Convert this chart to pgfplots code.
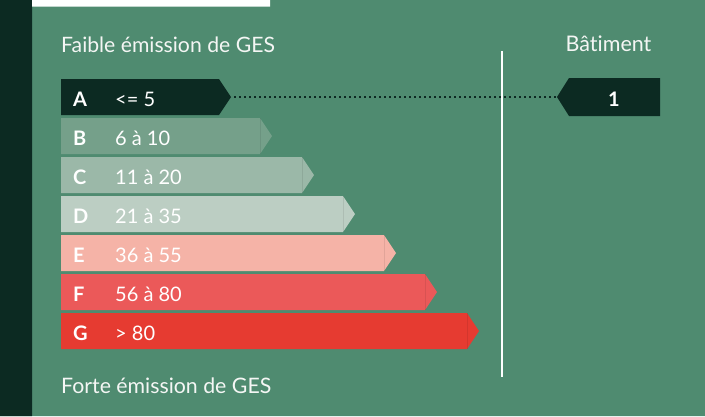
\documentclass[border=0pt]{standalone}
\usepackage{pgfplots}
\pgfplotsset{compat=1.18}
\usepackage{fontspec}
\setmainfont{Lato}[Ligatures=NoCommon]
\definecolor{bg}{HTML}{4F8B70}
\definecolor{dk}{HTML}{0C2A22}
\definecolor{cB}{HTML}{75A08A}
\definecolor{cC}{HTML}{9BB8A8}
\definecolor{cD}{HTML}{BCCEC3}
\definecolor{cE}{HTML}{F5B3A7}
\definecolor{cF}{HTML}{EB5959}
\definecolor{cG}{HTML}{E63B31}
\definecolor{tx}{HTML}{F4F6F4}
\newcommand{\lab}{\fontsize{20}{20}\selectfont}
\begin{document}
\begin{tikzpicture}
\begin{axis}[width=705pt,height=416pt,scale only axis,
  xmin=0,xmax=705,ymin=0,ymax=416,y dir=reverse,
  hide axis,clip=false,no markers]
% background and frame
\addplot[fill=bg,draw=none] coordinates {(0,0)(705,0)(705,416)(0,416)(0,0)};
\addplot[fill=dk,draw=none] coordinates {(0,0)(32,0)(32,416)(0,416)(0,0)};
\addplot[fill=white,draw=none] coordinates {(32,0)(270,0)(270,6.5)(32,6.5)(32,0)};
% bars: top, bottom, body end
\addplot[fill=dk,draw=none] coordinates {(61,79)(219,79)(231,97)(219,115)(61,115)(61,79)};
\addplot[fill=cB,draw=none] coordinates {(61,118)(260,118)(272,136)(260,154)(61,154)(61,118)};
\addplot[fill=cC,draw=none] coordinates {(61,157)(302,157)(314,175)(302,193)(61,193)(61,157)};
\addplot[fill=cD,draw=none] coordinates {(61,196)(343,196)(355,214)(343,232)(61,232)(61,196)};
\addplot[fill=cE,draw=none] coordinates {(61,235)(384,235)(396,253)(384,271)(61,271)(61,235)};
\addplot[fill=cF,draw=none] coordinates {(61,274)(425,274)(437,292)(425,310)(61,310)(61,274)};
\addplot[fill=cG,draw=none] coordinates {(61,313)(467,313)(479,331)(467,349)(61,349)(61,313)};
% faint seams at the arrow tips
\addplot[draw=black,opacity=0.08,line width=0.8pt] coordinates {(260,118)(260,154)};
\addplot[draw=black,opacity=0.08,line width=0.8pt] coordinates {(302,157)(302,193)};
\addplot[draw=black,opacity=0.08,line width=0.8pt] coordinates {(343,196)(343,232)};
\addplot[draw=black,opacity=0.08,line width=0.8pt] coordinates {(384,235)(384,271)};
\addplot[draw=black,opacity=0.08,line width=0.8pt] coordinates {(425,274)(425,310)};
\addplot[draw=black,opacity=0.08,line width=0.8pt] coordinates {(467,313)(467,349)};
% vertical separator
\addplot[draw=white,line width=2.4pt] coordinates {(502,51)(502,377)};
% dotted connector
\addplot[draw=dk,line width=2.2pt,dash pattern=on 2.2pt off 2.8pt] coordinates {(234,97)(556,97)};
% building arrow
\addplot[fill=dk,draw=none] coordinates {(557,97)(569,78)(660,78)(660,116)(569,116)(557,97)};
% texts
\node[anchor=base west,text=tx,inner sep=0pt] at (axis cs:61,52) {\fontsize{21.2}{22}\selectfont Faible émission de GES};
\node[anchor=base west,text=tx,inner sep=0pt] at (axis cs:61,393) {\fontsize{21.3}{22}\selectfont Forte émission de GES};
\node[anchor=base,text=tx,inner sep=0pt] at (axis cs:608.5,51) {\fontsize{21.5}{22}\selectfont Bâtiment};
\node[anchor=base,text=white,inner sep=0pt] at (axis cs:614,106) {\lab\bfseries 1};
\node[anchor=base west,text=white,inner sep=0pt] at (axis cs:73,106) {\lab\bfseries A};
\node[anchor=base west,text=white,inner sep=0pt] at (axis cs:73,145) {\lab\bfseries B};
\node[anchor=base west,text=white,inner sep=0pt] at (axis cs:73,184) {\lab\bfseries C};
\node[anchor=base west,text=white,inner sep=0pt] at (axis cs:73,223) {\lab\bfseries D};
\node[anchor=base west,text=white,inner sep=0pt] at (axis cs:73,262) {\lab\bfseries E};
\node[anchor=base west,text=white,inner sep=0pt] at (axis cs:73,301) {\lab\bfseries F};
\node[anchor=base west,text=white,inner sep=0pt] at (axis cs:73,340) {\lab\bfseries G};
\node[anchor=base west,text=white,inner sep=0pt] at (axis cs:115,106) {\lab <= 5};
\node[anchor=base west,text=white,inner sep=0pt] at (axis cs:115,145) {\lab 6 à 10};
\node[anchor=base west,text=white,inner sep=0pt] at (axis cs:115,184) {\lab 11 à 20};
\node[anchor=base west,text=white,inner sep=0pt] at (axis cs:115,223) {\lab 21 à 35};
\node[anchor=base west,text=white,inner sep=0pt] at (axis cs:115,262) {\lab 36 à 55};
\node[anchor=base west,text=white,inner sep=0pt] at (axis cs:115,301) {\lab 56 à 80};
\node[anchor=base west,text=white,inner sep=0pt] at (axis cs:115,340) {\lab > 80};
\end{axis}
\end{tikzpicture}
\end{document}
